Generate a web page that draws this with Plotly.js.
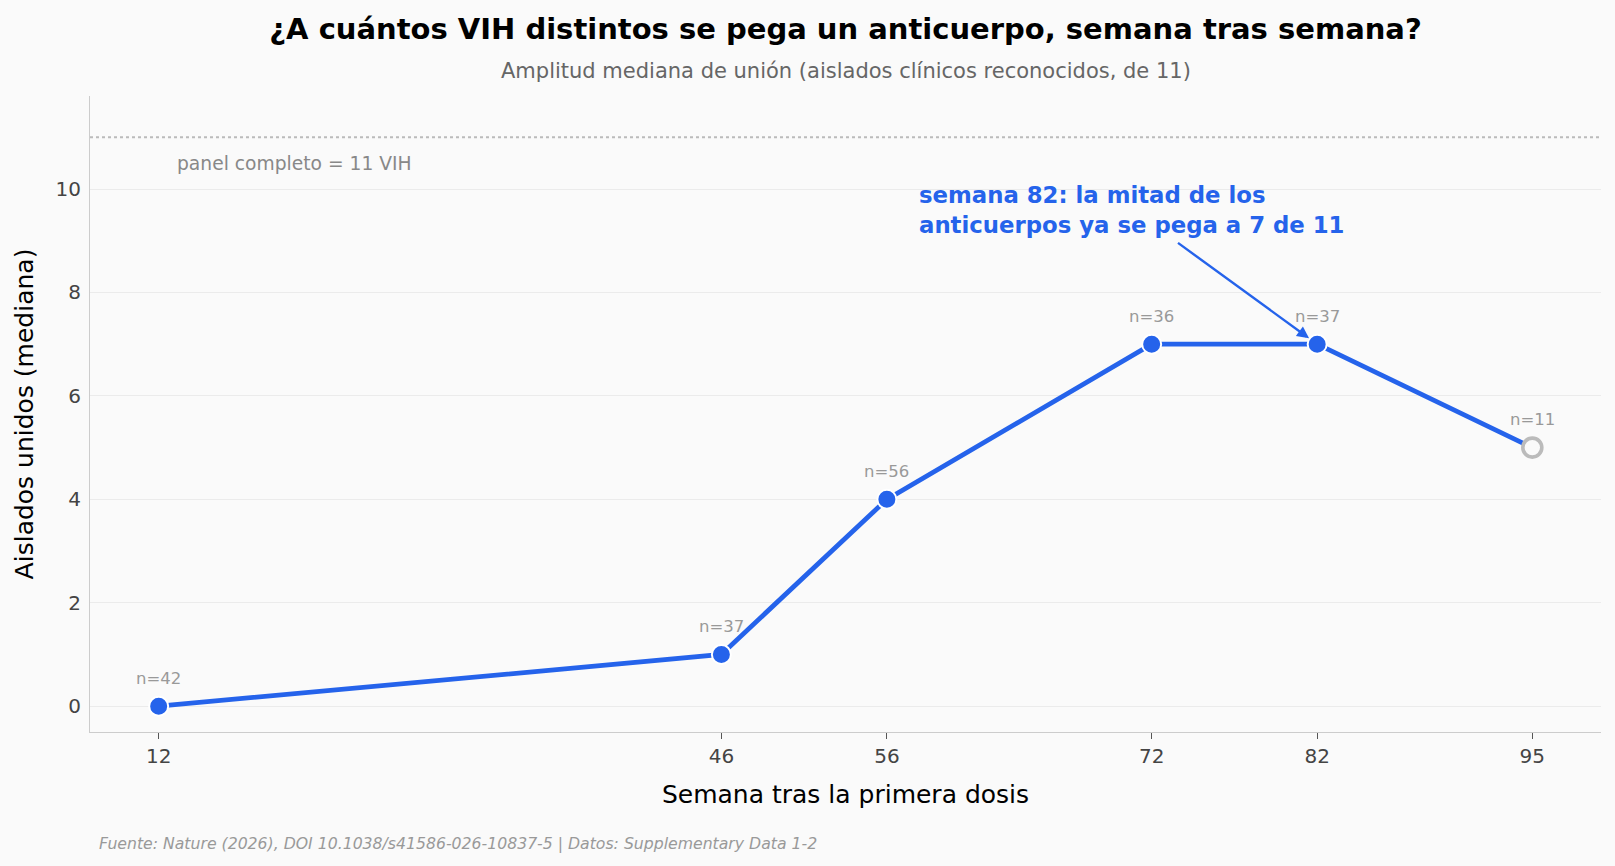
<!DOCTYPE html>
<html>
<head>
<meta charset="utf-8">
<script src="https://cdn.plot.ly/plotly-3.0.1.min.js"></script>
<style>html,body{margin:0;padding:0;background:#fafafa;}#chart{width:1615px;height:866px;}</style>
</head>
<body>
<div id="chart"></div>
<script>
const weeks = [12, 46, 56, 72, 82, 95];
const medianBound = [0, 1, 4, 7, 7, 5];
const sampleSizes = [42, 37, 56, 36, 37, 11];
const provisional = [false, false, false, false, false, true];
const panelSize = 11;
const tickWeeks = [12, 46, 56, 72, 82, 95];

const BLUE = '#2563eb';
const BG = '#fafafa';
const FONT = 'DejaVu Sans, sans-serif';

const trace = {
  x: weeks, y: medianBound, type: 'scatter', mode: 'lines+markers',
  line: {color: BLUE, width: 4.8},
  marker: {
    size: provisional.map(p => p ? 19 : 19),
    color: provisional.map(p => p ? BG : BLUE),
    opacity: 1,
    line: {color: provisional.map(p => p ? '#bbbbbb' : '#ffffff'), width: provisional.map(p => p ? 3.6 : 2)}
  },
  hoverinfo: 'x+y', showlegend: false, cliponaxis: false
};

const nAnnots = weeks.map((w, i) => ({
  x: w, y: medianBound[i], xref: 'x', yref: 'y', text: 'n=' + sampleSizes[i],
  showarrow: false, yshift: 28, font: {family: FONT, size: 16.5, color: '#999999'}
}));

const layout = {
  width: 1615, height: 866,
  paper_bgcolor: BG, plot_bgcolor: BG,
  margin: {l: 90, r: 14, t: 96, b: 134},
  font: {family: FONT},
  title: {
    text: '<b>¿A cuántos VIH distintos se pega un anticuerpo, semana tras semana?</b>',
    x: 0.5, xref: 'paper', y: 1 - 29/866, yref: 'container', yanchor: 'middle', xanchor: 'center',
    font: {family: FONT, size: 29, color: '#000000'}
  },
  xaxis: {
    range: [7.85, 99.15], tickvals: tickWeeks, ticktext: tickWeeks.map(String),
    showgrid: false, zeroline: false, showline: true, linecolor: '#cccccc', linewidth: 1.2,
    ticks: 'outside', ticklen: 6, tickcolor: '#555555', tickwidth: 1,
    tickfont: {family: FONT, size: 20, color: '#444444'},
    title: {text: 'Semana tras la primera dosis', font: {family: FONT, size: 25, color: '#000000'}, standoff: 18}
  },
  yaxis: {
    range: [-0.5, 11.8], tickvals: [0, 2, 4, 6, 8, 10],
    showgrid: true, gridcolor: '#ebebeb', gridwidth: 1, zeroline: false,
    showline: true, linecolor: '#cccccc', linewidth: 1.2,
    ticks: '', ticklabelstandoff: 4,
    tickfont: {family: FONT, size: 20, color: '#444444'},
    title: {text: 'Aislados unidos (mediana)', font: {family: FONT, size: 25, color: '#000000'}, standoff: 14}
  },
  shapes: [{
    type: 'line', xref: 'paper', x0: 0, x1: 1, yref: 'y', y0: panelSize, y1: panelSize,
    line: {color: '#bbbbbb', width: 2, dash: 'dot'}
  }],
  annotations: nAnnots.concat([
    {xref: 'paper', yref: 'paper', x: 0.5, y: 1 + (96 - 71)/636, yanchor: 'middle', xanchor: 'center',
     text: 'Amplitud mediana de unión (aislados clínicos reconocidos, de ' + panelSize + ')', showarrow: false,
     font: {family: FONT, size: 21, color: '#666666'}},
    {xref: 'x', yref: 'y', x: 13, y: 10.5, xanchor: 'left', yanchor: 'middle',
     text: 'panel completo = ' + panelSize + ' VIH', showarrow: false,
     font: {family: FONT, size: 18.7, color: '#888888'}},
    {xref: 'x', yref: 'y', x: 57.85, y: 9.6, xanchor: 'left', yanchor: 'middle', align: 'left',
     text: '<b>semana 82: la mitad de los<br>anticuerpos ya se pega a 7 de 11</b>', showarrow: false,
     font: {family: FONT, size: 22.8, color: BLUE}},
    {xref: 'x', yref: 'y', x: 82, y: 7, axref: 'x', ayref: 'y', ax: 73.5, ay: 8.98,
     text: ' ', font: {size: 1}, showarrow: true, arrowhead: 2, arrowsize: 1, arrowwidth: 2.4,
     arrowcolor: BLUE, standoff: 10},
    {xref: 'paper', yref: 'paper', x: (97 - 90)/1511, y: -(843 - 732)/636, xanchor: 'left', yanchor: 'middle',
     text: '<i>Fuente: Nature (2026), DOI 10.1038/s41586-026-10837-5 | Datos: Supplementary Data 1-2</i>',
     showarrow: false, font: {family: FONT, size: 15.7, color: '#999999'}}
  ])
};

Plotly.newPlot('chart', [trace], layout, {displayModeBar: false, responsive: false});
</script>
</body>
</html>
